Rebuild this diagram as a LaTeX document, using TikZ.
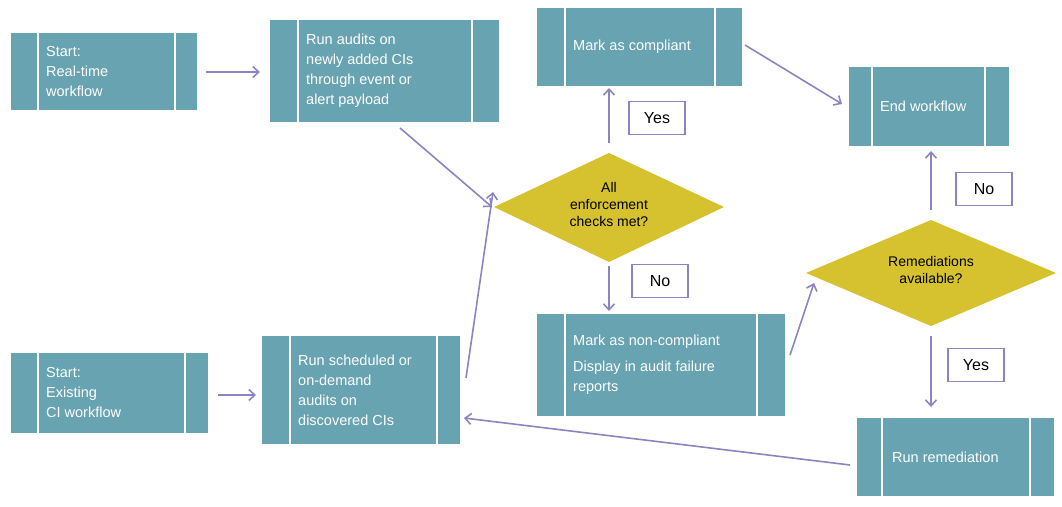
\documentclass[tikz,border=0pt]{standalone}
\usepackage{fontspec}
\setmainfont{Liberation Sans}
\usetikzlibrary{arrows.meta}
\definecolor{teal}{HTML}{67A3B1}
\definecolor{gold}{HTML}{D6C22F}
\definecolor{purp}{HTML}{8C84C2}
\begin{document}
\begin{tikzpicture}[x=1pt,y=-1pt,
  arr/.style={draw=purp,line width=1.6pt,-{Straight Barb[length=6pt,width=11pt]}},
  lbl/.style={draw=purp,line width=1.4pt,fill=white,minimum width=56pt,minimum height=33pt,font=\fontsize{16}{16}\selectfont,inner sep=0pt},
  dtxt/.style={font=\fontsize{14}{17}\selectfont,align=center,text=black}]
\useasboundingbox (0,0) rectangle (1062,506);
% box macro: name, x1,y1,x2,y2, l1, l2, text
\newcommand{\pbox}[8]{%
  \fill[teal] (#2,#3) rectangle (#4,#5);
  \draw[white,line width=1.2pt] (#6,#3) -- (#6,#5) (#7,#3) -- (#7,#5);
  \coordinate (#1) at ({(#2+#4)/2},{(#3+#5)/2});
  \node[anchor=west,text=white,align=left,font=\fontsize{14.5}{20}\selectfont,inner sep=0pt] (#1t) at ({#6+8},{(#3+#5)/2}) {#8};}
\pbox{b1}{11}{33}{197}{110}{38}{175}{Start:\\Real-time\\workflow}
\pbox{b2}{270}{20}{499}{122}{298}{472}{Run audits on\\newly added CIs\\through event or\\alert payload}
\pbox{b3}{537}{8}{742}{86}{565}{715}{Mark as compliant}
\pbox{b4}{849}{67}{1009}{146}{872}{985}{End workflow}
\pbox{b5}{11}{353}{208}{433}{38}{185}{Start:\\Existing\\CI workflow}
\pbox{b6}{262}{336}{460}{444}{290}{437}{Run scheduled or\\on-demand\\audits on\\discovered CIs}
\pbox{b7}{537}{314}{785}{416}{565}{757}{Mark as non-compliant\\[6pt]Display in audit failure\\reports}
\pbox{b8}{857}{418}{1054}{496}{882}{1030}{\hspace*{2pt}Run remediation}
\fill[gold] (494,207) -- (609,153) -- (724,207) -- (609,262) -- cycle;
\node[dtxt] (d1) at (609,204) {All\\enforcement\\checks met?};
\fill[gold] (806,273) -- (931,220) -- (1056,273) -- (931,326) -- cycle;
\node[dtxt] (d2) at (931,270) {Remediations\\available?};
\node[lbl] (y1) at (657,118) {Yes};
\node[lbl] (n1) at (660,281) {No};
\node[lbl] (n2) at (984,189) {No};
\node[lbl] (y2) at (976,365) {Yes};
\coordinate (a1) at (206,72); \coordinate (a1e) at (260,72);
\draw[arr] (a1) -- (a1e);
\coordinate (a2) at (218,395); \coordinate (a2e) at (256,395);
\draw[arr] (a2) -- (a2e);
\coordinate (a3) at (400,128); \coordinate (a3e) at (492,207);
\draw[arr] (a3) -- (a3e);
\coordinate (a4) at (466,378); \coordinate (a4e) at (493,192);
\draw[arr] (a4) -- (a4e);
\coordinate (a5) at (609,143); \coordinate (a5e) at (609,88);
\draw[arr] (a5) -- (a5e);
\coordinate (a6) at (609,266); \coordinate (a6e) at (609,311);
\draw[arr] (a6) -- (a6e);
\coordinate (a7) at (745,45); \coordinate (a7e) at (842,104);
\draw[arr] (a7) -- (a7e);
\coordinate (a8) at (931,210); \coordinate (a8e) at (931,151);
\draw[arr] (a8) -- (a8e);
\coordinate (a9) at (931,336); \coordinate (a9e) at (931,407);
\draw[arr] (a9) -- (a9e);
\coordinate (a10) at (790,355); \coordinate (a10e) at (814,283);
\draw[arr] (a10) -- (a10e);
\coordinate (a11) at (850,465); \coordinate (a11e) at (464,418);
\draw[arr] (a11) -- (a11e);
\end{tikzpicture}
\end{document}
